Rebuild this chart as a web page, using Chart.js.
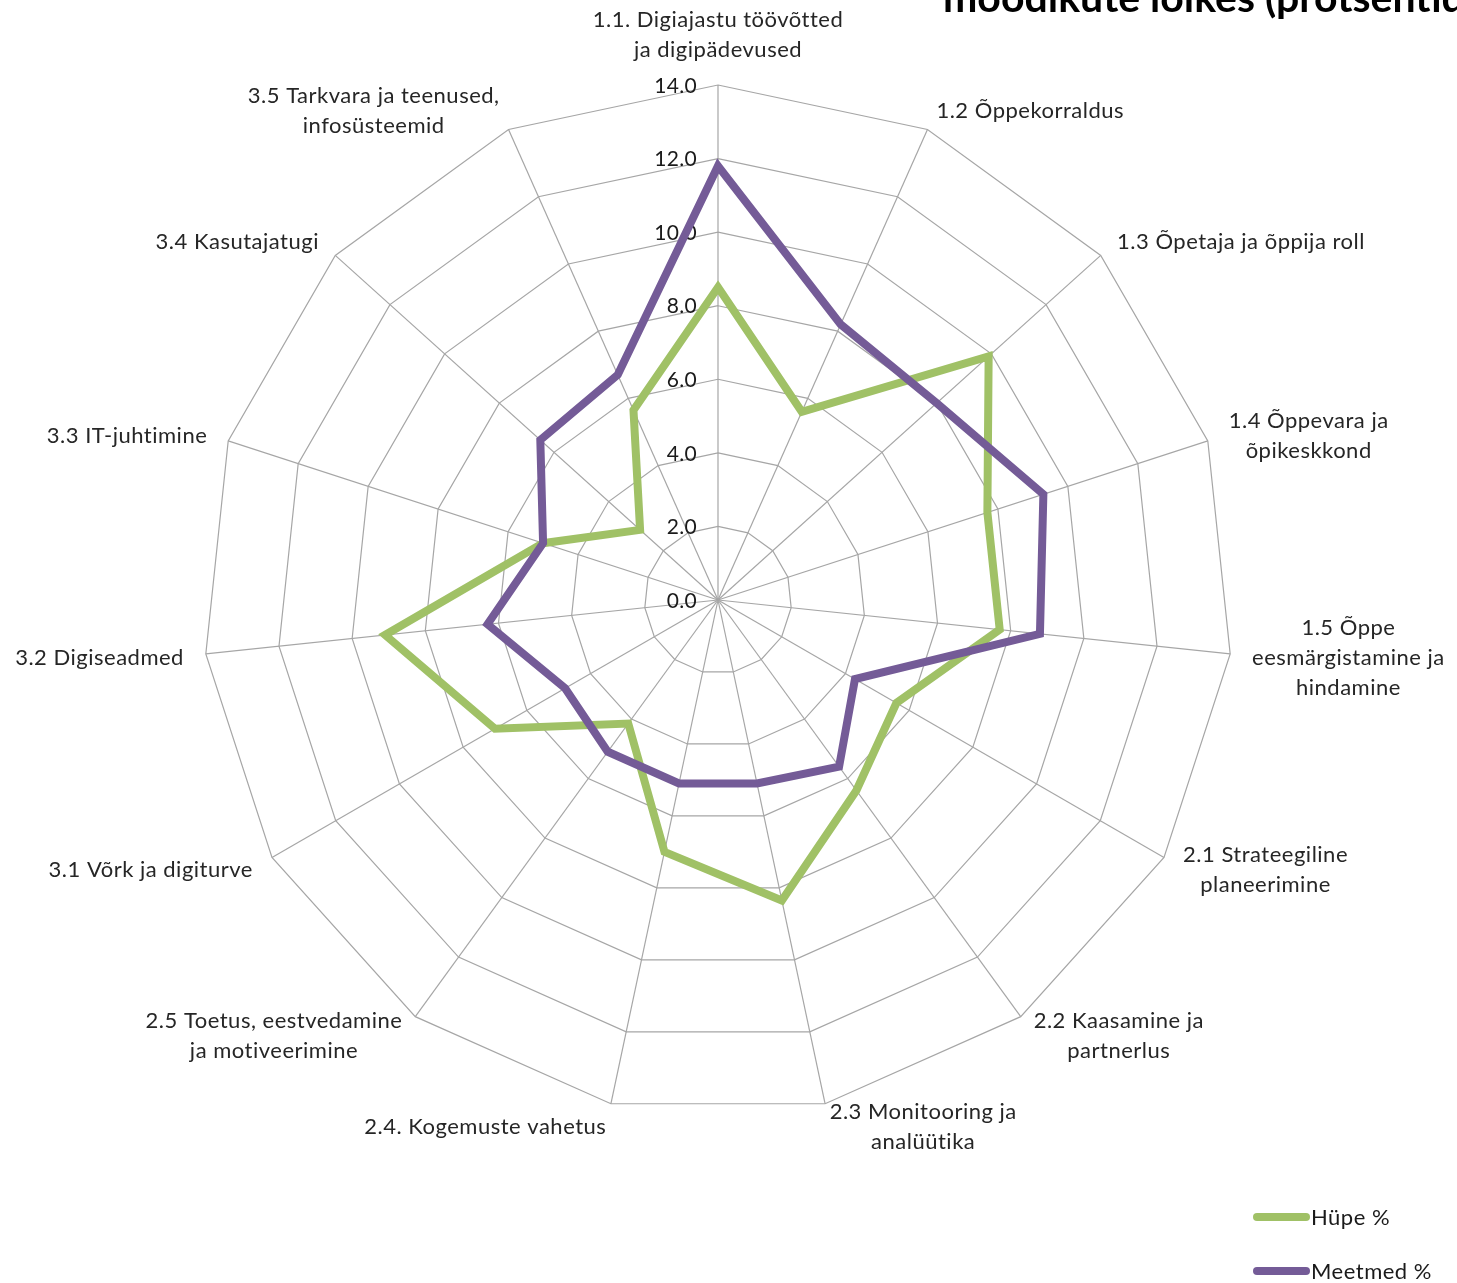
<!DOCTYPE html>
<html>
<head>
<meta charset="utf-8">
<script src="https://cdn.jsdelivr.net/npm/chart.js@4/dist/chart.umd.min.js"></script>
<style>
  html, body { margin: 0; padding: 0; background: #fff; }
  canvas { display: block; }
</style>
</head>
<body>
<canvas id="c" width="1457" height="1283"></canvas>
<script>
// ---- Data ----
const categories = [
  ['1.1. Digiajastu töövõtted', 'ja digipädevused'],
  ['1.2 Õppekorraldus'],
  ['1.3 Õpetaja ja õppija roll'],
  ['1.4 Õppevara ja', 'õpikeskkond'],
  ['1.5 Õppe', 'eesmärgistamine ja', 'hindamine'],
  ['2.1 Strateegiline', 'planeerimine'],
  ['2.2 Kaasamine ja', 'partnerlus'],
  ['2.3 Monitooring ja', 'analüütika'],
  ['2.4. Kogemuste vahetus'],
  ['2.5 Toetus, eestvedamine', 'ja motiveerimine'],
  ['3.1 Võrk ja digiturve'],
  ['3.2 Digiseadmed'],
  ['3.3 IT-juhtimine'],
  ['3.4 Kasutajatugi'],
  ['3.5 Tarkvara ja teenused,', 'infosüsteemid']
];
const hupeValues    = [8.5, 5.6, 9.9, 7.7, 7.7, 5.6, 6.4, 8.35, 7.0, 4.15, 7.0, 9.1, 5.0, 2.85, 5.65];
const meetmedValues = [11.8, 8.2, 8.0, 9.3, 8.8, 4.3, 5.6, 5.1, 5.1, 5.1, 4.8, 6.3, 5.0, 6.5, 6.7];
const seriesNames = ['Hüpe %', 'Meetmed %'];
const tickLabels = ['0.0', '2.0', '4.0', '6.0', '8.0', '10.0', '12.0', '14.0'];
const titleText = 'moodikute lõikes (protsentides)';

const GREEN = '#A0C166';
const PURPLE = '#745B97';
const FONT = 'Lato, "Open Sans", sans-serif';

// tick labels drawn left of the vertical axis
const tickPlugin = {
  id: 'tickLabels',
  beforeDatasetsDraw(chart) {
    const s = chart.scales.r;
    const ctx = chart.ctx;
    ctx.save();
    ctx.font = '21px ' + FONT;
    ctx.letterSpacing = '0.3px';
    ctx.fillStyle = '#1a1a1a';
    ctx.textAlign = 'right';
    ctx.textBaseline = 'middle';
    s.ticks.forEach((t, i) => {
      const d = s.getDistanceFromCenterForValue(t.value);
      const label = tickLabels[i] !== undefined ? tickLabels[i] : t.value.toFixed(1);
      ctx.fillText(label, s.xCenter - 21, s.yCenter - d + 1);
    });
    ctx.restore();
  }
};

// point labels with centered lines (Excel style)
const pointLabelPlugin = {
  id: 'pointLabelsCentered',
  afterDraw(chart) {
    const s = chart.scales.r;
    const ctx = chart.ctx;
    ctx.save();
    ctx.font = '22px ' + FONT;
    ctx.letterSpacing = '0.5px';
    ctx.fillStyle = '#262626';
    ctx.textAlign = 'center';
    ctx.textBaseline = 'middle';
    const lh = 30;
    categories.forEach((lines, i) => {
      const a = s.getIndexAngle(i);
      const p = s.getPointPosition(i, s.drawingArea + 22);
      const w = Math.max(...lines.map(l => ctx.measureText(l).width));
      const h = lines.length * lh;
      const sn = Math.sin(a), cs = Math.cos(a);
      let cx, cy;
      if (Math.abs(sn) < 0.02) {
        cx = p.x;
        cy = cs > 0 ? p.y - h / 2 + 2 : p.y + h / 2;
      } else {
        cx = p.x + (sn > 0 ? w / 2 : -w / 2);
        cy = p.y + 1.5;
      }
      lines.forEach((l, j) => {
        ctx.fillText(l, cx, cy - h / 2 + lh / 2 + j * lh);
      });
    });
    ctx.restore();
  }
};

// legend + partial title
const extrasPlugin = {
  id: 'extras',
  afterDraw(chart) {
    const ctx = chart.ctx;
    ctx.save();
    // title (cut off at top as in reference)
    ctx.font = 'bold 41px ' + FONT;
    ctx.fillStyle = '#000';
    ctx.textAlign = 'left';
    ctx.textBaseline = 'alphabetic';
    ctx.fillText(titleText, 943, 12);
    // legend
    ctx.font = '22px ' + FONT;
    ctx.letterSpacing = '0.5px';
    ctx.textBaseline = 'middle';
    ctx.fillStyle = '#1a1a1a';
    chart.data.datasets.forEach((d, i) => {
      const y = 1217 + i * 54;
      ctx.strokeStyle = d.borderColor;
      ctx.lineWidth = 8;
      ctx.lineCap = 'round';
      ctx.beginPath();
      ctx.moveTo(1257, y);
      ctx.lineTo(1306, y);
      ctx.stroke();
      ctx.fillText(d.label, 1311, y + 1);
    });
    ctx.restore();
  }
};

new Chart(document.getElementById('c'), {
  type: 'radar',
  data: {
    labels: categories,
    datasets: [
      {
        label: seriesNames[0],
        data: hupeValues,
        borderColor: GREEN,
        backgroundColor: GREEN,
        borderWidth: 8,
        pointRadius: 0,
        pointHoverRadius: 0,
        fill: false,
        tension: 0,
        order: 1
      },
      {
        label: seriesNames[1],
        data: meetmedValues,
        borderColor: PURPLE,
        backgroundColor: PURPLE,
        borderWidth: 8,
        pointRadius: 0,
        pointHoverRadius: 0,
        fill: false,
        tension: 0,
        order: 0
      }
    ]
  },
  options: {
    responsive: false,
    animation: false,
    devicePixelRatio: 1,
    layout: { padding: { left: 203, top: 85, right: 224, bottom: 168 } },
    plugins: {
      legend: { display: false },
      tooltip: { enabled: false },
      title: { display: false }
    },
    scales: {
      r: {
        min: 0,
        max: 14,
        ticks: { stepSize: 2, display: false },
        pointLabels: { display: false },
        grid: { color: '#a6a6a6', lineWidth: 1.2, circular: false },
        angleLines: { color: '#a6a6a6', lineWidth: 1.2 }
      }
    }
  },
  plugins: [tickPlugin, pointLabelPlugin, extrasPlugin]
});
</script>
</body>
</html>
